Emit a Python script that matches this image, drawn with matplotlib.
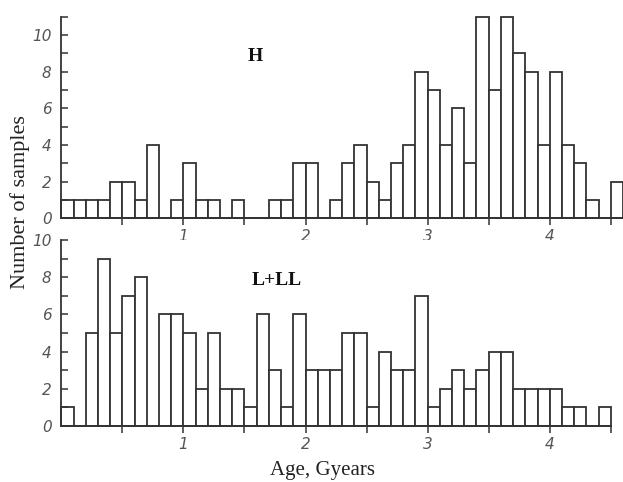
import numpy as np
import matplotlib
matplotlib.use('Agg')
import matplotlib.pyplot as plt
from matplotlib.ticker import FixedLocator, FuncFormatter

# bin counts, 0.1 Gyear bins starting at 0
h_counts = [1, 1, 1, 1, 2, 2, 1, 4, 0, 1, 3, 1, 1, 0, 1, 0, 0, 1, 1, 3, 3, 0, 1, 3,
            4, 2, 1, 3, 4, 8, 7, 4, 6, 3, 11, 7, 11, 9, 8, 4, 8, 4, 3, 1, 0, 2]
l_counts = [1, 0, 5, 9, 5, 7, 8, 0, 6, 6, 5, 2, 5, 2, 2, 1, 6, 3, 1, 6, 3, 3, 3,
            5, 5, 1, 4, 3, 3, 7, 1, 2, 3, 2, 3, 4, 4, 2, 2, 2, 2, 1, 1, 0, 1]
bin_width = 0.1
x_labels = ['1', '2', '3', '4']
panel_names = ['H', 'L+LL']

line_col = '#333333'
tick_col = '#555555'
tick_family = ['Liberation Sans Narrow', 'DejaVu Sans']

fig = plt.figure(figsize=(6.23, 4.82), dpi=100)
ax_h = fig.add_axes([61.3 / 623, 1 - 218.3 / 482, 561.7 / 623, 201.6 / 482])
ax_l = fig.add_axes([61.3 / 623, 1 - 426 / 482, 549.5 / 623, 186 / 482])


def draw_panel(ax, counts, ymax, name, name_xy):
    edges = np.arange(len(counts)) * bin_width
    ax.bar(edges, counts, width=bin_width, align='edge', color='white',
           edgecolor=line_col, linewidth=1.3, clip_on=False)
    ax.set_xlim(0, len(counts) * bin_width)
    ax.set_ylim(0, ymax)
    for s in ['top', 'right']:
        ax.spines[s].set_visible(False)
    for s in ['left', 'bottom']:
        ax.spines[s].set_color(line_col)
        ax.spines[s].set_linewidth(1.3)
    ax.yaxis.set_major_locator(FixedLocator(range(0, ymax + 1)))
    ax.yaxis.set_major_formatter(FuncFormatter(lambda v, p: f'{int(v)}' if int(v) % 2 == 0 and v <= 10 else ''))
    ax.xaxis.set_major_locator(FixedLocator(np.arange(0.5, 4.51, 0.5)))
    ax.xaxis.set_major_formatter(FuncFormatter(lambda v, p: x_labels[int(v) - 1] if abs(v - round(v)) < 1e-6 and 1 <= v <= 4 else ''))
    ax.tick_params(axis='y', direction='in', length=5, width=1.1, color=line_col, pad=7)
    ax.tick_params(axis='x', direction='out', length=5, width=1.1, color=line_col, pad=3)
    for lab in ax.get_xticklabels() + ax.get_yticklabels():
        lab.set_fontfamily(tick_family)
        lab.set_fontstyle('italic')
        lab.set_fontsize(11)
        lab.set_color(tick_col)
    ax.text(name_xy[0], name_xy[1], name, ha='center', va='center',
            fontfamily='Liberation Serif', fontweight='bold', fontsize=14, color='#111111')


draw_panel(ax_h, h_counts, 11, panel_names[0], (1.59, 8.85))
draw_panel(ax_l, l_counts, 10, panel_names[1], (1.76, 7.8))

fig.text(0.032, 0.58, 'Number of samples', rotation=90, ha='center', va='center',
         fontfamily='Liberation Serif', fontsize=16, color='#222222')
fig.text(0.518, 1 - 470 / 482, 'Age, Gyears', ha='center', va='center',
         fontfamily='Liberation Serif', fontsize=15, color='#222222')

fig.savefig('out.png', dpi=100, facecolor='white')
